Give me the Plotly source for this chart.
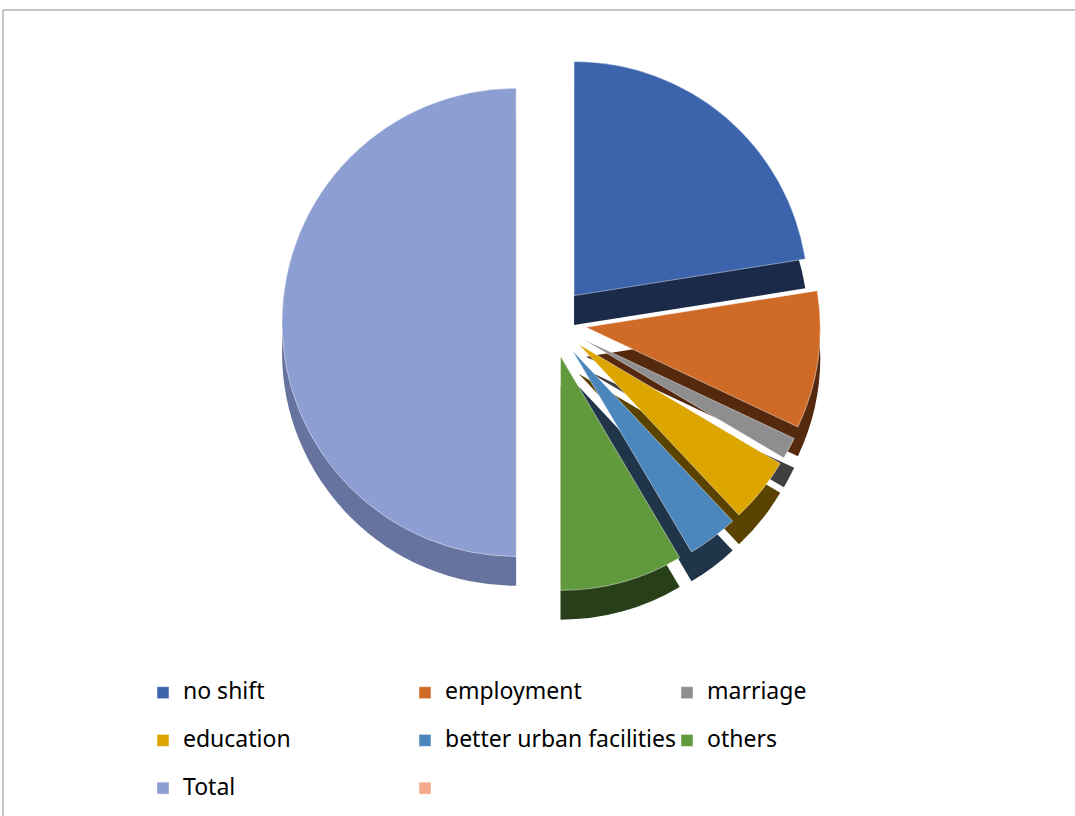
import plotly.graph_objects as go

categories = ["no shift", "employment", "marriage", "education",
              "better urban facilities", "others", "Total", " "]
values = [45, 19, 3, 9, 7, 17, 100, 0]
colors = ["#3B64AD", "#D06B27", "#8E8E8E", "#DDA500",
          "#4B87BC", "#619A3C", "#8C9ED2", "#F4A98B"]
side_colors = ["#1A2A48", "#55290E", "#404040", "#5A4300",
               "#20344A", "#27401A", "#66739E", "#A0705E"]
pulls = [0.15, 0.15, 0.15, 0.15, 0.15, 0.15, 0.15, 0.15]

legend_labels = [
    ("<span style='font-size:23px'>%s</span><br> " % c) if c.strip() else " <br> "
    for c in categories
]

W, H = 1075, 816
MR = 200  # right margin so the legend wraps after three columns
PW = W - MR

dom_x = [0.26, 1.0]
dom_y = [0.275, 0.935]
depth = 0.036

fig = go.Figure()
# side (depth) layer
fig.add_trace(go.Pie(
    labels=legend_labels,
    values=values,
    sort=False,
    direction="clockwise",
    rotation=0,
    pull=pulls,
    textinfo="none",
    hoverinfo="skip",
    showlegend=False,
    marker=dict(colors=side_colors, line=dict(color="rgba(255,255,255,0)", width=0)),
    domain=dict(x=dom_x, y=[dom_y[0] - depth, dom_y[1] - depth]),
))
# top face
fig.add_trace(go.Pie(
    labels=legend_labels,
    values=values,
    sort=False,
    direction="clockwise",
    rotation=0,
    pull=pulls,
    textinfo="none",
    hoverinfo="value",
    marker=dict(colors=colors, line=dict(color="rgba(255,255,255,0.45)", width=1)),
    domain=dict(x=dom_x, y=dom_y),
))

fig.update_layout(
    width=W, height=H,
    margin=dict(l=0, r=MR, t=0, b=0, autoexpand=False),
    paper_bgcolor="white",
    plot_bgcolor="white",
    font=dict(family="Noto Sans, Liberation Sans, sans-serif", size=17.2, color="#000000"),
    showlegend=True,
    legend=dict(
        orientation="h",
        x=143 / PW, y=-13 / H, xanchor="left", yanchor="bottom",
        entrywidth=217, entrywidthmode="pixels",
        font=dict(size=17.2),
        valign="top",
        traceorder="normal",
        bgcolor="rgba(0,0,0,0)",
    ),
    shapes=[dict(type="rect", xref="paper", yref="paper",
                 x0=3 / PW, x1=1.5, y0=-0.2, y1=1 - 10 / H,
                 line=dict(color="#8C8C8C", width=1))],
)

fig.write_html("out.html")
